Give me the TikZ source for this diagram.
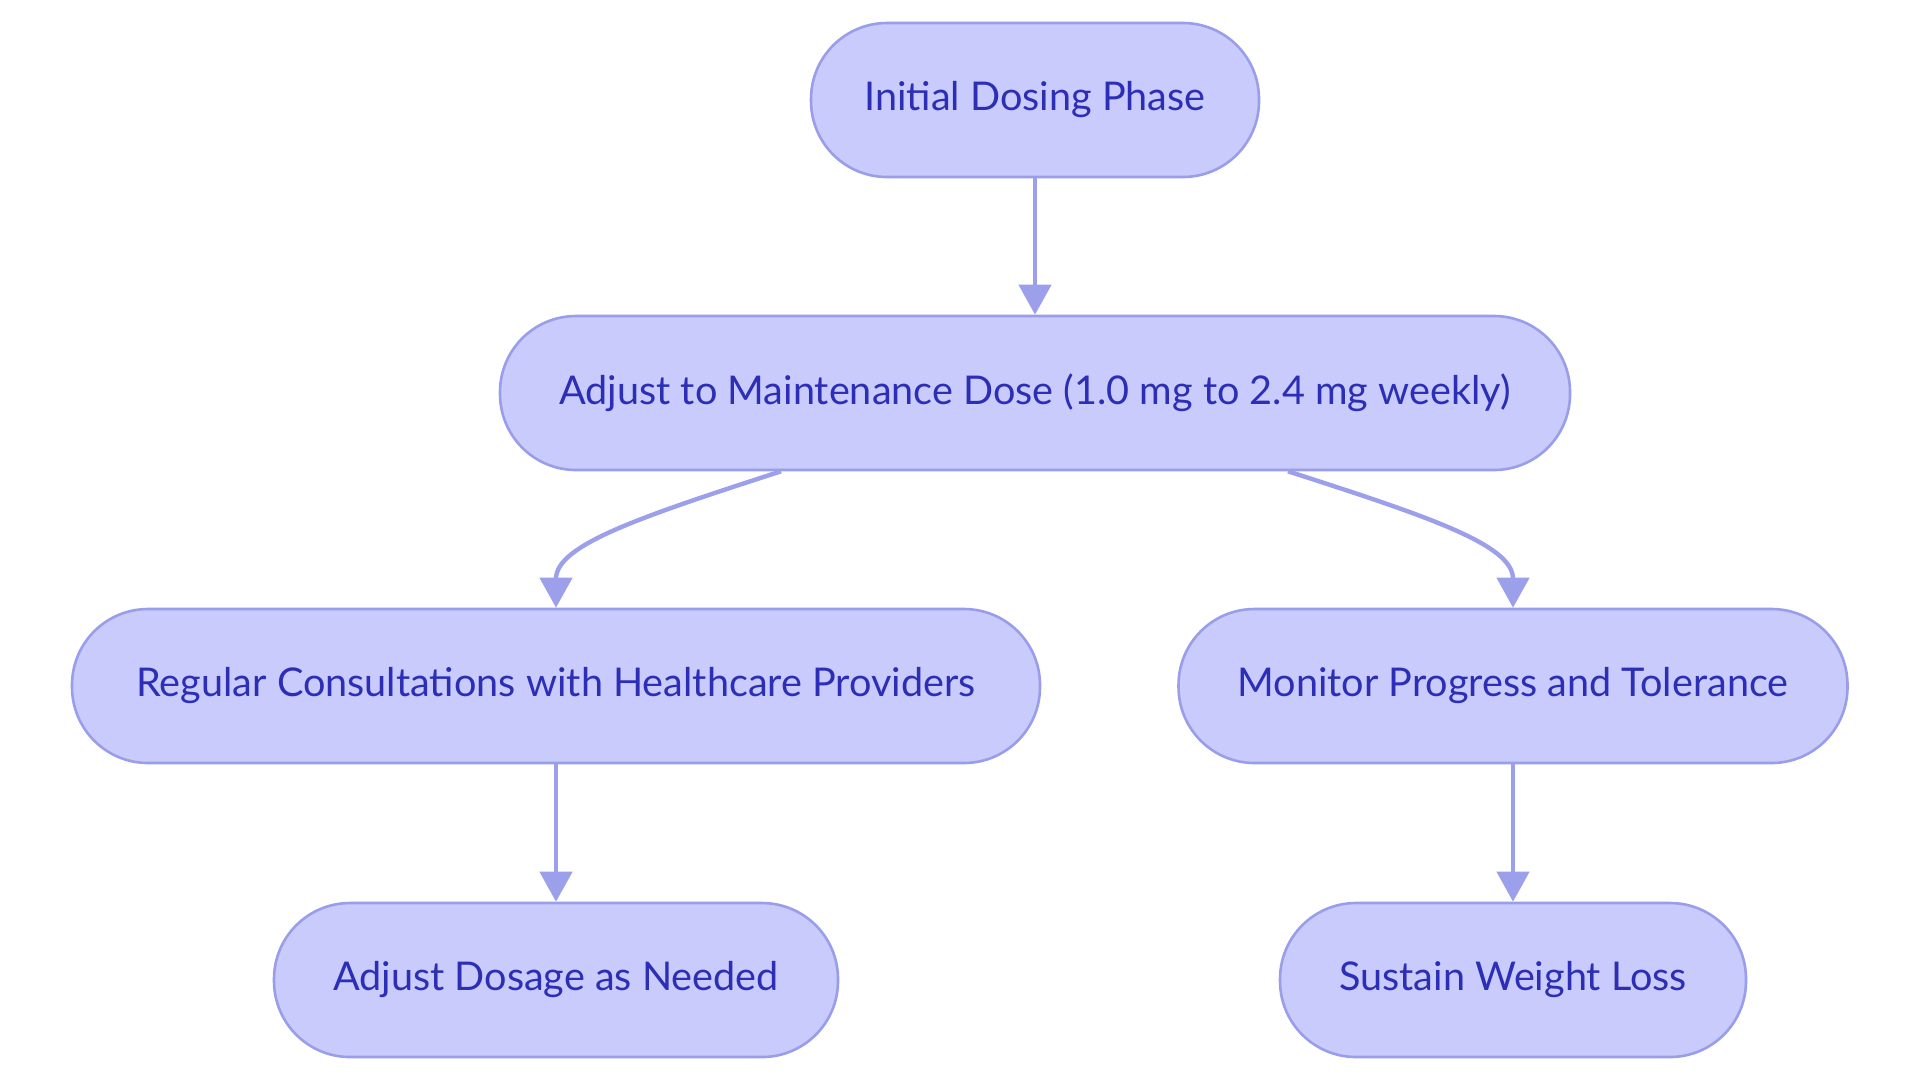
\documentclass[tikz,border=0pt]{standalone}
\usepackage{fontspec}
\setmainfont{Lato}
\usetikzlibrary{arrows.meta}
\definecolor{nodefill}{HTML}{C8CBFC}
\definecolor{nodeline}{HTML}{9A9EEA}
\definecolor{nodetext}{HTML}{2C2EB5}
\definecolor{edgecol}{HTML}{9C9FEA}
\begin{document}
\begin{tikzpicture}[x=0.5pt,y=-0.5pt,
  pill/.style={draw=nodeline, fill=nodefill, line width=1.3pt, rounded corners=38pt,
    minimum height=77pt, text=nodetext, font=\fontsize{19.8}{24}\selectfont, inner sep=0pt},
  flow/.style={draw=edgecol, line width=2.2pt, -{Triangle[width=16pt,length=15pt]}}]
\useasboundingbox (0,0) rectangle (1920,1083);
\node[pill, minimum width=224pt] (a) at (1035,100) {Initial Dosing Phase};
\node[pill, minimum width=535pt] (b) at (1035,393) {Adjust to Maintenance Dose (1.0 mg to 2.4 mg weekly)};
\node[pill, minimum width=484pt] (c) at (556,686) {Regular Consultations with Healthcare Providers};
\node[pill, minimum width=334.5pt] (d) at (1513,686) {Monitor Progress and Tolerance};
\node[pill, minimum width=282pt] (e) at (556,980) {Adjust Dosage as Needed};
\node[pill, minimum width=233pt] (f) at (1513,980) {Sustain Weight Loss};
\draw[flow] (a.south) -- (b.north);
\draw[flow] (b.south -| 781,0) .. controls (640,517) and (556,545) .. (c.north);
\draw[flow] (b.south -| 1288,0) .. controls (1430,517) and (1513,545) .. (d.north);
\draw[flow] (c.south) -- (e.north);
\draw[flow] (d.south) -- (f.north);
\end{tikzpicture}
\end{document}
